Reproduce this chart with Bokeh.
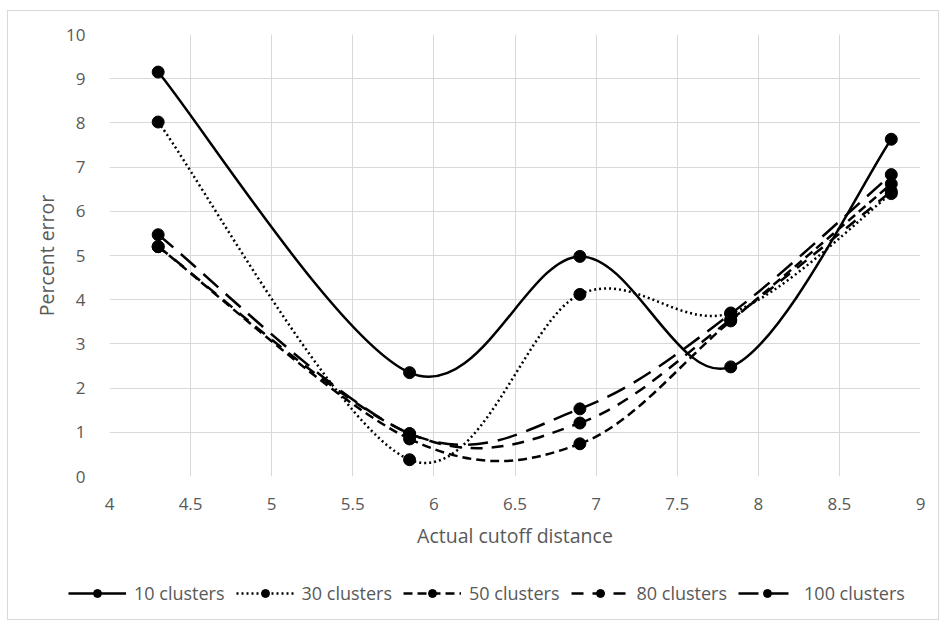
from bokeh.plotting import figure
from bokeh.layouts import column
from bokeh.models import (ColumnDataSource, Legend, LegendItem, FixedTicker,
                          NumeralTickFormatter, Range1d)
from bokeh.embed import file_html
from bokeh.resources import INLINE

# ---- data ----
cutoff = [4.3, 5.85, 6.9, 7.83, 8.82]
series_names = ["10 clusters", "30 clusters", "50 clusters", "80 clusters", "100 clusters"]
err_10 = [9.15, 2.35, 4.98, 2.48, 7.63]
err_30 = [8.02, 0.38, 4.12, 3.70, 6.40]
err_50 = [5.20, 0.85, 0.74, 3.52, 6.62]
err_80 = [5.20, 0.97, 1.21, 3.55, 6.45]
err_100 = [5.47, 0.97, 1.53, 3.68, 6.83]
x_ticks = [4, 4.5, 5, 5.5, 6, 6.5, 7, 7.5, 8, 8.5, 9]
y_ticks = [0, 1, 2, 3, 4, 5, 6, 7, 8, 9, 10]

series = [err_10, err_30, err_50, err_80, err_100]
dashes = ["solid", "2 3", "9 5", "12 9", "20 10"]

GRID = "#d9d9d9"
TXT = "#595959"
FONT = "Open Sans"

p = figure(width=930, height=545, x_range=(4, 9), y_range=(0, 10),
           output_backend="svg", toolbar_location=None,
           min_border_left=101, min_border_right=18,
           min_border_top=23, min_border_bottom=80)
p.outline_line_color = None
p.background_fill_color = "white"
p.border_fill_color = "white"

for ax in (p.xaxis, p.yaxis):
    ax.axis_line_color = None
    ax.major_tick_line_color = None
    ax.minor_tick_line_color = None
    ax.major_label_text_color = TXT
    ax.major_label_text_font = FONT
    ax.major_label_text_font_size = "17px"
    ax.axis_label_text_color = TXT
    ax.axis_label_text_font = FONT
    ax.axis_label_text_font_size = "19.5px"
    ax.axis_label_text_font_style = "normal"
    ax.formatter = NumeralTickFormatter(format="0.[0]")

p.xaxis.ticker = FixedTicker(ticks=x_ticks)
p.yaxis.ticker = FixedTicker(ticks=y_ticks)
p.xaxis.axis_label = "Actual cutoff distance"
p.yaxis.axis_label = "Percent error"
p.xaxis.major_label_standoff = 15
p.yaxis.major_label_standoff = 18
p.xaxis.axis_label_standoff = 9
p.yaxis.axis_label_standoff = 3

p.xgrid.ticker = FixedTicker(ticks=x_ticks)
p.ygrid.ticker = FixedTicker(ticks=y_ticks)
p.xgrid.grid_line_color = GRID
p.ygrid.grid_line_color = GRID

# legend strip (same series, drawn out of view so only the legend shows)
pl = figure(width=930, height=63, x_range=Range1d(100, 101), y_range=Range1d(100, 101),
            output_backend="svg", toolbar_location=None,
            x_axis_location=None, y_axis_location=None,
            min_border_left=0, min_border_right=0, min_border_top=0, min_border_bottom=0)
pl.outline_line_color = None
pl.xgrid.visible = False
pl.ygrid.visible = False
for fig in (p, pl):
    try:
        fig.frame_align = False
    except Exception:
        pass


def smooth_segments(xs, ys):
    n = len(xs)
    d = dict(x0=[], y0=[], x1=[], y1=[], cx0=[], cy0=[], cx1=[], cy1=[])
    for i in range(n - 1):
        a = i - 1 if i > 0 else i
        b = i + 2 if i + 2 < n else i + 1
        d["x0"].append(xs[i]); d["y0"].append(ys[i])
        d["x1"].append(xs[i + 1]); d["y1"].append(ys[i + 1])
        d["cx0"].append(xs[i] + (xs[i + 1] - xs[a]) / 6)
        d["cy0"].append(ys[i] + (ys[i + 1] - ys[a]) / 6)
        d["cx1"].append(xs[i + 1] - (xs[b] - xs[i]) / 6)
        d["cy1"].append(ys[i + 1] - (ys[b] - ys[i]) / 6)
    return d


items = []
for name, ys, dash in zip(series_names, series, dashes):
    src = ColumnDataSource(smooth_segments(cutoff, ys))
    kw = dict(x0="x0", y0="y0", x1="x1", y1="y1", cx0="cx0", cy0="cy0",
              cx1="cx1", cy1="cy1", source=src, line_color="black",
              line_width=2.5, line_dash=dash)
    p.bezier(**kw)
    p.scatter(cutoff, ys, marker="circle", size=12, fill_color="black", line_color="black")
    l_line = pl.bezier(**kw)
    l_pts = pl.scatter(cutoff, ys, marker="circle", size=12, fill_color="black",
                       line_color="black")
    items.append(LegendItem(label=name, renderers=[l_line, l_pts]))

legend = Legend(items=items, orientation="horizontal", location=(60, 14),
                label_text_font=FONT, label_text_font_size="18px",
                label_text_color=TXT, glyph_width=58, glyph_height=20,
                label_standoff=8, spacing=11, padding=0, margin=0,
                border_line_color=None, background_fill_alpha=0)
pl.add_layout(legend, "center")

layout = column(p, pl, spacing=0)
layout.margin = (10, 0, 0, 7)
layout.styles = {"border": "1px solid #d9d9d9", "background-color": "white"}

open("out.html", "w").write(file_html(layout, INLINE))
